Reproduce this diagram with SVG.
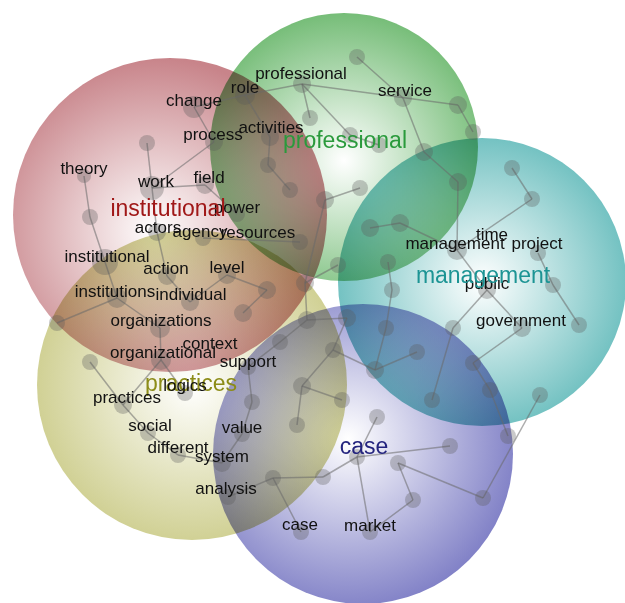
<svg xmlns="http://www.w3.org/2000/svg" width="625" height="603" viewBox="0 0 625 603">
<style>
.blob{mix-blend-mode:multiply}
.edge{stroke:#6a6a6a;stroke-opacity:.55;stroke-width:1.5;fill:none}
.nd{fill:#5a5a5a;fill-opacity:.32}
.lbl{font-family:"Liberation Sans",Arial,sans-serif;font-size:17px;fill:#111;text-anchor:middle}
.big{font-family:"Liberation Sans",Arial,sans-serif;font-size:23px;text-anchor:middle}
</style>
<defs>
<radialGradient id="gRed" cx="0.45" cy="0.55" r="0.55"><stop offset="0" stop-color="#ffffff"/><stop offset="1" stop-color="#c8848a"/></radialGradient>
<radialGradient id="gGreen" cx="0.5" cy="0.55" r="0.55"><stop offset="0" stop-color="#ffffff"/><stop offset="1" stop-color="#76bd78"/></radialGradient>
<radialGradient id="gTeal" cx="0.5" cy="0.5" r="0.55"><stop offset="0" stop-color="#ffffff"/><stop offset="1" stop-color="#66bcbc"/></radialGradient>
<radialGradient id="gPurple" cx="0.45" cy="0.45" r="0.6"><stop offset="0" stop-color="#ffffff"/><stop offset="1" stop-color="#7b7bc4"/></radialGradient>
<radialGradient id="gOlive" cx="0.5" cy="0.5" r="0.55"><stop offset="0" stop-color="#ffffff"/><stop offset="1" stop-color="#cccc8a"/></radialGradient>
</defs>
<rect width="625" height="603" fill="#ffffff"/>
<g id="clusters">
<g id="cluster-institutional"><circle class="blob" cx="170" cy="215" r="157" fill="url(#gRed)"/></g>
<g id="cluster-professional"><circle class="blob" cx="344" cy="147" r="134" fill="url(#gGreen)"/></g>
<g id="cluster-management"><circle class="blob" cx="482" cy="282" r="144" fill="url(#gTeal)"/></g>
<g id="cluster-practices"><circle class="blob" cx="192" cy="385" r="155" fill="url(#gOlive)"/></g>
<g id="cluster-case"><circle class="blob" cx="363" cy="454" r="150" fill="url(#gPurple)"/></g>
</g>
<g id="connectors" class="edge">
<line x1="357" y1="57" x2="403" y2="98"/>
<line x1="302" y1="84" x2="458" y2="105"/>
<line x1="302" y1="84" x2="310" y2="118"/>
<line x1="302" y1="84" x2="350" y2="135"/>
<line x1="350" y1="135" x2="379" y2="145"/>
<line x1="245" y1="95" x2="302" y2="84"/>
<line x1="194" y1="107" x2="245" y2="95"/>
<line x1="194" y1="107" x2="214" y2="142"/>
<line x1="245" y1="95" x2="270" y2="137"/>
<line x1="270" y1="137" x2="268" y2="165"/>
<line x1="268" y1="165" x2="290" y2="190"/>
<line x1="214" y1="142" x2="152" y2="188"/>
<line x1="147" y1="143" x2="152" y2="188"/>
<line x1="152" y1="188" x2="205" y2="185"/>
<line x1="152" y1="188" x2="157" y2="232"/>
<line x1="205" y1="185" x2="237" y2="214"/>
<line x1="84" y1="176" x2="90" y2="217"/>
<line x1="90" y1="217" x2="105" y2="262"/>
<line x1="105" y1="262" x2="117" y2="298"/>
<line x1="117" y1="298" x2="57" y2="323"/>
<line x1="117" y1="298" x2="160" y2="328"/>
<line x1="157" y1="232" x2="167" y2="276"/>
<line x1="167" y1="276" x2="190" y2="302"/>
<line x1="227" y1="275" x2="190" y2="302"/>
<line x1="227" y1="275" x2="267" y2="290"/>
<line x1="267" y1="290" x2="243" y2="313"/>
<line x1="203" y1="238" x2="300" y2="242"/>
<line x1="403" y1="98" x2="424" y2="152"/>
<line x1="458" y1="105" x2="473" y2="132"/>
<line x1="424" y1="152" x2="458" y2="182"/>
<line x1="458" y1="182" x2="457" y2="250"/>
<line x1="512" y1="168" x2="532" y2="199"/>
<line x1="532" y1="199" x2="457" y2="250"/>
<line x1="360" y1="188" x2="325" y2="200"/>
<line x1="325" y1="200" x2="305" y2="283"/>
<line x1="338" y1="265" x2="305" y2="283"/>
<line x1="305" y1="283" x2="307" y2="320"/>
<line x1="370" y1="228" x2="400" y2="223"/>
<line x1="400" y1="223" x2="457" y2="250"/>
<line x1="388" y1="262" x2="392" y2="290"/>
<line x1="392" y1="290" x2="386" y2="328"/>
<line x1="386" y1="328" x2="375" y2="370"/>
<line x1="457" y1="250" x2="487" y2="290"/>
<line x1="487" y1="290" x2="453" y2="328"/>
<line x1="453" y1="328" x2="432" y2="400"/>
<line x1="487" y1="290" x2="522" y2="328"/>
<line x1="522" y1="328" x2="473" y2="363"/>
<line x1="473" y1="363" x2="490" y2="390"/>
<line x1="490" y1="390" x2="508" y2="436"/>
<line x1="538" y1="253" x2="553" y2="285"/>
<line x1="553" y1="285" x2="579" y2="325"/>
<line x1="307" y1="320" x2="347" y2="318"/>
<line x1="347" y1="318" x2="333" y2="350"/>
<line x1="333" y1="350" x2="302" y2="386"/>
<line x1="333" y1="350" x2="375" y2="370"/>
<line x1="375" y1="370" x2="417" y2="352"/>
<line x1="302" y1="386" x2="342" y2="400"/>
<line x1="302" y1="386" x2="297" y2="425"/>
<line x1="307" y1="320" x2="280" y2="342"/>
<line x1="280" y1="342" x2="248" y2="367"/>
<line x1="248" y1="367" x2="252" y2="402"/>
<line x1="252" y1="402" x2="242" y2="434"/>
<line x1="242" y1="434" x2="222" y2="463"/>
<line x1="160" y1="328" x2="161" y2="360"/>
<line x1="161" y1="360" x2="123" y2="405"/>
<line x1="161" y1="360" x2="185" y2="393"/>
<line x1="90" y1="362" x2="123" y2="405"/>
<line x1="123" y1="405" x2="148" y2="433"/>
<line x1="148" y1="433" x2="178" y2="455"/>
<line x1="178" y1="455" x2="222" y2="463"/>
<line x1="273" y1="478" x2="323" y2="477"/>
<line x1="323" y1="477" x2="357" y2="457"/>
<line x1="357" y1="457" x2="377" y2="417"/>
<line x1="357" y1="457" x2="450" y2="446"/>
<line x1="357" y1="457" x2="370" y2="532"/>
<line x1="398" y1="463" x2="413" y2="500"/>
<line x1="413" y1="500" x2="370" y2="532"/>
<line x1="398" y1="463" x2="483" y2="498"/>
<line x1="483" y1="498" x2="540" y2="395"/>
<line x1="273" y1="478" x2="301" y2="532"/>
<line x1="273" y1="478" x2="228" y2="497"/>
</g>
<g id="nodes">
<g id="n-top"><circle class="nd" cx="357" cy="57" r="8"/></g>
<g id="n-professional"><circle class="nd" cx="302" cy="84" r="9"/><text class="lbl" x="301" y="79">professional</text></g>
<g id="n-role"><circle class="nd" cx="245" cy="95" r="10"/><text class="lbl" x="245" y="93">role</text></g>
<g id="n-change"><circle class="nd" cx="194" cy="107" r="11"/><text class="lbl" x="194" y="106">change</text></g>
<g id="n-p1"><circle class="nd" cx="310" cy="118" r="8"/></g>
<g id="n-process"><circle class="nd" cx="214" cy="142" r="9"/><text class="lbl" x="213" y="140">process</text></g>
<g id="n-activities"><circle class="nd" cx="270" cy="137" r="9"/><text class="lbl" x="271" y="133">activities</text></g>
<g id="n-p2"><circle class="nd" cx="350" cy="135" r="8"/></g>
<g id="n-p3"><circle class="nd" cx="379" cy="145" r="8"/></g>
<g id="n-service"><circle class="nd" cx="403" cy="98" r="9"/><text class="lbl" x="405" y="96">service</text></g>
<g id="n-p4"><circle class="nd" cx="458" cy="105" r="9"/></g>
<g id="n-p5"><circle class="nd" cx="473" cy="132" r="8"/></g>
<g id="n-p6"><circle class="nd" cx="424" cy="152" r="9"/></g>
<g id="n-p7"><circle class="nd" cx="458" cy="182" r="9"/></g>
<g id="n-m1"><circle class="nd" cx="512" cy="168" r="8"/></g>
<g id="n-m2"><circle class="nd" cx="532" cy="199" r="8"/></g>
<g id="n-c1"><circle class="nd" cx="147" cy="143" r="8"/></g>
<g id="n-theory"><circle class="nd" cx="84" cy="176" r="7"/><text class="lbl" x="84" y="174">theory</text></g>
<g id="n-work"><circle class="nd" cx="152" cy="188" r="12"/><text class="lbl" x="156" y="187">work</text></g>
<g id="n-field"><circle class="nd" cx="205" cy="185" r="9"/><text class="lbl" x="209" y="183">field</text></g>
<g id="n-a1"><circle class="nd" cx="268" cy="165" r="8"/></g>
<g id="n-a2"><circle class="nd" cx="290" cy="190" r="8"/></g>
<g id="n-power"><circle class="nd" cx="237" cy="214" r="8"/><text class="lbl" x="237" y="213">power</text></g>
<g id="n-g1"><circle class="nd" cx="325" cy="200" r="9"/></g>
<g id="n-g2"><circle class="nd" cx="360" cy="188" r="8"/></g>
<g id="n-i1"><circle class="nd" cx="90" cy="217" r="8"/></g>
<g id="n-actors"><circle class="nd" cx="157" cy="232" r="9"/><text class="lbl" x="158" y="233">actors</text></g>
<g id="n-agency"><circle class="nd" cx="203" cy="238" r="8"/><text class="lbl" x="200" y="237">agency</text></g>
<g id="n-resources"><circle class="nd" cx="300" cy="242" r="8"/><text class="lbl" x="258" y="238">resources</text></g>
<g id="n-g3"><circle class="nd" cx="370" cy="228" r="9"/></g>
<g id="n-g4"><circle class="nd" cx="400" cy="223" r="9"/></g>
<g id="n-management"><circle class="nd" cx="457" cy="250" r="10"/><text class="lbl" x="455" y="249">management</text></g>
<g id="n-time"><text class="lbl" x="492" y="240">time</text></g>
<g id="n-project"><circle class="nd" cx="538" cy="253" r="8"/><text class="lbl" x="537" y="249">project</text></g>
<g id="n-institutional"><circle class="nd" cx="105" cy="262" r="13"/><text class="lbl" x="107" y="262">institutional</text></g>
<g id="n-action"><circle class="nd" cx="167" cy="276" r="9"/><text class="lbl" x="166" y="274">action</text></g>
<g id="n-level"><circle class="nd" cx="227" cy="275" r="9"/><text class="lbl" x="227" y="273">level</text></g>
<g id="n-l1"><circle class="nd" cx="267" cy="290" r="9"/></g>
<g id="n-x1"><circle class="nd" cx="305" cy="283" r="9"/></g>
<g id="n-t1"><circle class="nd" cx="338" cy="265" r="8"/></g>
<g id="n-t2"><circle class="nd" cx="388" cy="262" r="8"/></g>
<g id="n-t3"><circle class="nd" cx="392" cy="290" r="8"/></g>
<g id="n-public"><circle class="nd" cx="487" cy="290" r="9"/><text class="lbl" x="487" y="289">public</text></g>
<g id="n-t4"><circle class="nd" cx="553" cy="285" r="8"/></g>
<g id="n-institutions"><circle class="nd" cx="117" cy="298" r="10"/><text class="lbl" x="115" y="297">institutions</text></g>
<g id="n-individual"><circle class="nd" cx="190" cy="302" r="9"/><text class="lbl" x="191" y="300">individual</text></g>
<g id="n-l2"><circle class="nd" cx="243" cy="313" r="9"/></g>
<g id="n-o1"><circle class="nd" cx="57" cy="323" r="8"/></g>
<g id="n-organizations"><circle class="nd" cx="160" cy="328" r="10"/><text class="lbl" x="161" y="326">organizations</text></g>
<g id="n-c2"><circle class="nd" cx="307" cy="320" r="9"/></g>
<g id="n-c3"><circle class="nd" cx="347" cy="318" r="9"/></g>
<g id="n-t5"><circle class="nd" cx="386" cy="328" r="8"/></g>
<g id="n-t6"><circle class="nd" cx="453" cy="328" r="8"/></g>
<g id="n-government"><circle class="nd" cx="522" cy="328" r="9"/><text class="lbl" x="521" y="326">government</text></g>
<g id="n-t7"><circle class="nd" cx="579" cy="325" r="8"/></g>
<g id="n-c4"><circle class="nd" cx="280" cy="342" r="8"/></g>
<g id="n-c5"><circle class="nd" cx="333" cy="350" r="8"/></g>
<g id="n-o2"><circle class="nd" cx="90" cy="362" r="8"/></g>
<g id="n-context"><text class="lbl" x="210" y="349">context</text></g>
<g id="n-organizational"><circle class="nd" cx="161" cy="360" r="10"/><text class="lbl" x="163" y="358">organizational</text></g>
<g id="n-support"><circle class="nd" cx="248" cy="367" r="8"/><text class="lbl" x="248" y="367">support</text></g>
<g id="n-c6"><circle class="nd" cx="375" cy="370" r="9"/></g>
<g id="n-t8"><circle class="nd" cx="417" cy="352" r="8"/></g>
<g id="n-t9"><circle class="nd" cx="473" cy="363" r="8"/></g>
<g id="n-logics"><circle class="nd" cx="185" cy="393" r="8"/></g>
<g id="n-c7"><circle class="nd" cx="302" cy="386" r="9"/></g>
<g id="n-t10"><circle class="nd" cx="490" cy="390" r="8"/></g>
<g id="n-t11"><circle class="nd" cx="540" cy="395" r="8"/></g>
<g id="n-practices"><circle class="nd" cx="123" cy="405" r="9"/></g>
<g id="n-c8"><circle class="nd" cx="252" cy="402" r="8"/></g>
<g id="n-c9"><circle class="nd" cx="342" cy="400" r="8"/></g>
<g id="n-t12"><circle class="nd" cx="432" cy="400" r="8"/></g>
<g id="n-c10"><circle class="nd" cx="377" cy="417" r="8"/></g>
<g id="n-c11"><circle class="nd" cx="297" cy="425" r="8"/></g>
<g id="n-value"><circle class="nd" cx="242" cy="434" r="8"/></g>
<g id="n-social"><circle class="nd" cx="148" cy="433" r="8"/></g>
<g id="n-t13"><circle class="nd" cx="508" cy="436" r="8"/></g>
<g id="n-c12"><circle class="nd" cx="450" cy="446" r="8"/></g>
<g id="n-different"><circle class="nd" cx="178" cy="455" r="8"/></g>
<g id="n-system"><circle class="nd" cx="222" cy="463" r="9"/></g>
<g id="n-case1"><circle class="nd" cx="357" cy="457" r="8"/></g>
<g id="n-c13"><circle class="nd" cx="398" cy="463" r="8"/></g>
<g id="n-c14"><circle class="nd" cx="323" cy="477" r="8"/></g>
<g id="n-c15"><circle class="nd" cx="273" cy="478" r="8"/></g>
<g id="n-analysis"><circle class="nd" cx="228" cy="497" r="8"/></g>
<g id="n-c16"><circle class="nd" cx="413" cy="500" r="8"/></g>
<g id="n-c17"><circle class="nd" cx="483" cy="498" r="8"/></g>
<g id="n-case2"><circle class="nd" cx="301" cy="532" r="8"/></g>
<g id="n-market"><circle class="nd" cx="370" cy="532" r="8"/></g>
</g>
<g id="cluster-labels">
<text class="big" x="168" y="216" fill="#a01818">institutional</text>
<text class="big" x="345" y="148" fill="#2a9a3c">professional</text>
<text class="big" x="483" y="283" fill="#1c9494">management</text>
<text class="big" x="191" y="391" fill="#8c8c18">practices</text>
<text class="big" x="364" y="454" fill="#23237e">case</text>
</g>
<g id="labels2">
<text class="lbl" x="185" y="391">logics</text>
<text class="lbl" x="127" y="403">practices</text>
<text class="lbl" x="150" y="431">social</text>
<text class="lbl" x="242" y="433">value</text>
<text class="lbl" x="178" y="453">different</text>
<text class="lbl" x="222" y="462">system</text>
<text class="lbl" x="226" y="494">analysis</text>
<text class="lbl" x="300" y="530">case</text>
<text class="lbl" x="370" y="531">market</text>
</g>
</svg>
